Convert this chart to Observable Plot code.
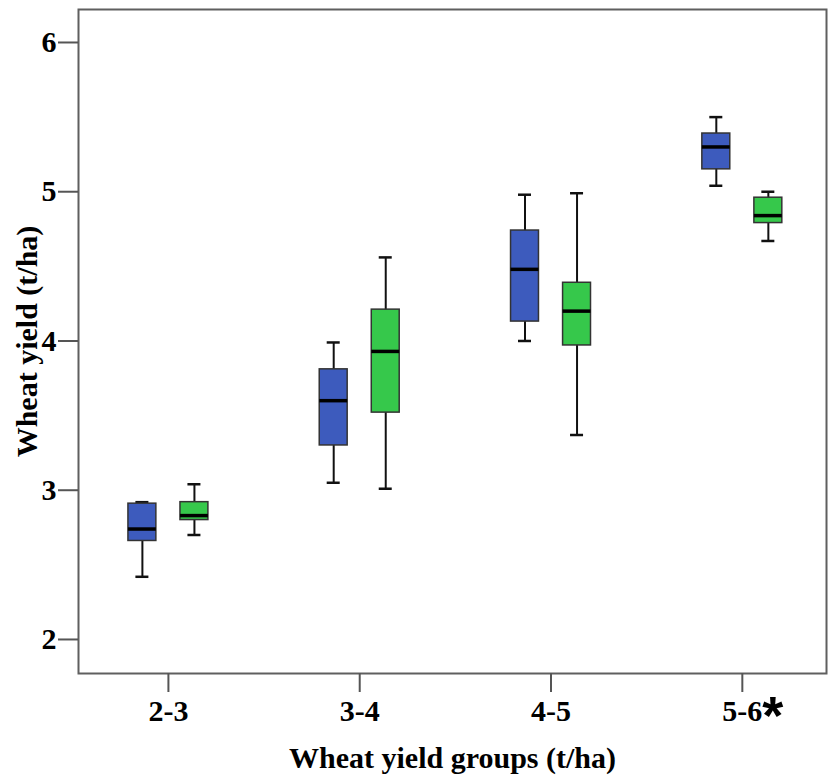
<!DOCTYPE html>
<html>
<head>
<meta charset="utf-8">
<script src="https://cdn.jsdelivr.net/npm/d3@7"></script>
<script src="https://cdn.jsdelivr.net/npm/@observablehq/plot@0.6"></script>
<style>
  html, body { margin: 0; padding: 0; background: #fff; }
</style>
</head>
<body>
<div id="chart"></div>
<script>
// Categories (x axis)
const groups = ["2-3", "3-4", "4-5", "5-6"];
const groupMark = ["", "", "", "*"];
// Two series (blue, green) – five-number summaries
const seriesNames = ["blue", "green"];
const blueMin = [2.42, 3.05, 4.00, 5.04];
const blueQ1  = [2.66, 3.30, 4.13, 5.15];
const blueMed = [2.74, 3.60, 4.48, 5.30];
const blueQ3  = [2.91, 3.81, 4.74, 5.39];
const blueMax = [2.92, 3.99, 4.98, 5.50];
const greenMin = [2.70, 3.01, 3.37, 4.67];
const greenQ1  = [2.80, 3.52, 3.97, 4.79];
const greenMed = [2.83, 3.93, 4.20, 4.84];
const greenQ3  = [2.92, 4.21, 4.39, 4.96];
const greenMax = [3.04, 4.56, 4.99, 5.00];
// Axis ticks
const yTicks = [2, 3, 4, 5, 6];

const colors = { blue: "#3d5bbd", green: "#36c84b" };
const stats = {
  blue:  { min: blueMin, q1: blueQ1, med: blueMed, q3: blueQ3, max: blueMax },
  green: { min: greenMin, q1: greenQ1, med: greenMed, q3: greenQ3, max: greenMax }
};
const offset = { blue: -0.136, green: 0.136 };
const boxHalf = 0.073, capHalf = 0.034;

const rows = [];
seriesNames.forEach(s => {
  groups.forEach((g, i) => {
    const st = stats[s];
    rows.push({ group: g, i, series: s, pos: i + offset[s],
      min: st.min[i], q1: st.q1[i], med: st.med[i], q3: st.q3[i], max: st.max[i] });
  });
});
const marks = groups.map((g, i) => ({ i, t: groupMark[i] })).filter(d => d.t);

const chart = Plot.plot({
  width: 829,
  height: 776,
  marginLeft: 78,
  marginRight: 3,
  marginTop: 9,
  marginBottom: 103,
  style: { fontFamily: "'Liberation Serif', 'Times New Roman', serif", fontWeight: "bold", fontSize: "30px", color: "#000", background: "#fff" },
  x: { domain: [-0.47, 3.44] },
  y: { domain: [1.772, 6.221] },
  marks: [
    Plot.frame({ stroke: "#5f5f5f", strokeWidth: 2 }),
    Plot.axisY({ ticks: yTicks, tickSize: 20, tickPadding: 2, tickFormat: d => String(d),
      stroke: "#555", strokeWidth: 2,
      label: "Wheat yield (t/ha)", labelAnchor: "center", labelOffset: 63, labelArrow: "none" }),
    Plot.axisX({ ticks: [0, 1, 2, 3], tickFormat: i => groups[i], tickSize: 19, tickPadding: 7,
      stroke: "#555", strokeWidth: 2,
      label: "Wheat yield groups (t/ha)", labelAnchor: "center", labelOffset: 94, labelArrow: "none" }),
    Plot.text(marks, { x: "i", frameAnchor: "bottom", text: "t", dx: 20, dy: 60,
      textAnchor: "start", lineAnchor: "bottom", fontSize: 54, fontFamily: "'Liberation Sans', sans-serif" }),
    // whiskers
    Plot.ruleX(rows, { x: "pos", y1: "min", y2: "max", stroke: "#111", strokeWidth: 2 }),
    Plot.ruleY(rows, { y: "min", x1: d => d.pos - capHalf, x2: d => d.pos + capHalf, stroke: "#111", strokeWidth: 2.5 }),
    Plot.ruleY(rows, { y: "max", x1: d => d.pos - capHalf, x2: d => d.pos + capHalf, stroke: "#111", strokeWidth: 2.5 }),
    // boxes
    Plot.rect(rows, { x1: d => d.pos - boxHalf, x2: d => d.pos + boxHalf, y1: "q1", y2: "q3",
      fill: d => colors[d.series], stroke: "#333", strokeWidth: 1.5 }),
    // medians
    Plot.ruleY(rows, { y: "med", x1: d => d.pos - boxHalf, x2: d => d.pos + boxHalf, stroke: "#000", strokeWidth: 3.5 })
  ]
});
document.getElementById("chart").appendChild(chart);
</script>
</body>
</html>
